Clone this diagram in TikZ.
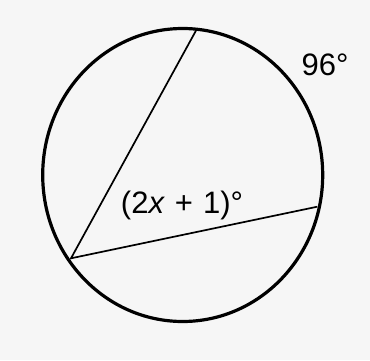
\documentclass[tikz,border=0pt]{standalone}
\usepackage{fontspec}
\setmainfont{Liberation Sans}
\begin{document}
\begin{tikzpicture}[x=1pt,y=1pt,
  rim/.style={line width=3.2pt},
  chord/.style={line width=1.7pt},
  lbl/.style={font=\fontsize{31}{33}\selectfont, inner sep=0pt}]
\fill[gray!7] (0,0) rectangle (370,360);
\useasboundingbox (0,0) rectangle (370,360);
\draw[rim] (182.7,185) ellipse [x radius=140, y radius=146.5];
\coordinate (A) at (196.7,330.7);
\coordinate (V) at (71,101.7);
\coordinate (B) at (317.3,153.3);
\draw[chord] (A) -- (V) -- (B);
\node[lbl] (arc) at (325,295) {96°};
\node[lbl] (ang) at (182,155) {(2\textit{x}\hspace{10pt}+\hspace{10pt}1)°};
\end{tikzpicture}
\end{document}
